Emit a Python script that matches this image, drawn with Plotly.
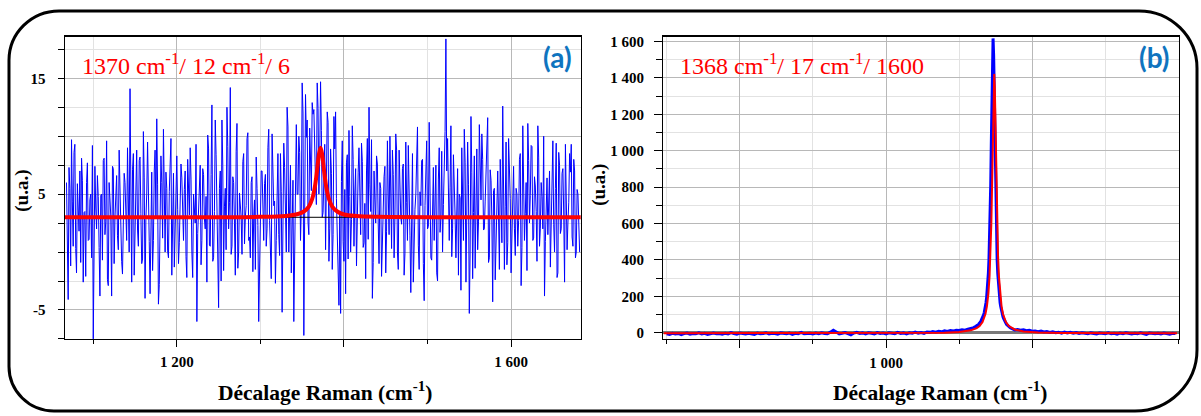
import plotly.graph_objects as go

W, H = 1201, 416

# ---------------- Panel (a) data ----------------
# readings at even wavenumbers 1068, 1070, ... 1682 (cm-1)
a_even_start = 1068
a_blue_even = [
    6.0, -4.1, 5.5, 9.7, 0.5, 9.3, -1.8, 4.0, 7.0, 8.1,
    -2.6, 3.5, 6.0, 1.0, 4.5, -0.5, -7.5, 7.4, 2.0, 4.8,
    -3.8, 5.0, 7.9, 1.5, 9.6, -2.9, 4.0, -3.8, 7.2, 3.0,
    6.6, 0.2, 5.0, -0.8, 3.2, 6.0, 1.0, 4.0, 14.1, -2.6,
    8.5, 2.0, 8.8, 0.5, 8.2, -1.0, 10.4, -4.0, 5.0, 2.0,
    -3.6, 6.9, 1.0, 8.8, 11.5, -4.5, 3.5, 6.0, 10.6, 0.0,
    5.5, -0.5, 7.8, -2.0, 6.8, 2.0, 8.3, -1.0, 4.5, 6.4,
    1.0, 7.0, -2.2, 3.8, 9.0, 0.0, 5.0, 2.5, -6.0, 4.0,
    7.5, 1.0, 6.7, 2.0, -2.6, 8.9, 0.5, 12.7, -0.5, 11.4,
    3.0, -4.8, 7.0, 11.4, -1.6, 5.5, 12.5, 2.0, 14.2, 0.5,
    6.0, -2.0, 11.1, 0.0, 4.0, -0.2, 8.5, 3.0, 9.8, 1.0,
    -0.5, 6.5, 3.0, -1.5, 5.5, -6.0, 4.5, 7.0, 1.0, 6.7,
    2.0, 10.6, -1.0, 10.2, 4.0, -2.7, 6.0, 1.5, 8.5, -5.2,
    9.4, 2.5, 12.5, 0.0, 7.5, 2.0, -6.0, 9.0, 5.0, 10.0,
    1.0, 14.6, -7.2, 13.6, 11.4, 1.5, 8.0, 12.9, 12.3, 6.0,
    14.6, 5.0, 14.7, 3.0, 8.2, 0.2, 12.1, -0.8, 8.9, -1.5,
    11.7, 12.1, 0.6, -4.6, -5.3, 9.6, -0.8, -3.6, 8.4, 10.5,
    0.0, 10.9, 0.5, 7.2, 4.0, 9.0, 1.5, 7.8, 0.8, -2.3,
    9.8, 12.5, 3.5, -4.0, 7.0, 2.5, 7.6, -1.0, 5.5, 1.0,
    6.5, -1.8, 9.6, 1.5, 4.5, 8.8, -0.5, 10.2, 0.0, 8.8,
    3.0, 7.2, -2.0, 9.5, 1.0, 6.0, -3.5, 8.5, 2.5, 5.0,
    10.8, -1.5, 4.0, 8.0, -4.2, 6.5, 2.0, 11.2, -0.5, 5.5,
    1.0, 7.5, -2.5, 9.0, 3.0, 0.0, 7.6, 18.4, 9.8, 1.0,
    10.9, 2.0, 6.5, -0.5, 7.2, 5.0, -3.3, 6.0, 10.6, -2.6,
    9.5, -5.3, 11.7, -2.3, 8.3, 6.0, 0.2, 11.0, 4.5, 8.0,
    2.0, 7.5, 11.6, -0.5, 6.2, -4.3, 5.5, 1.0, 7.0, -1.5,
    4.0, 12.6, -1.5, 9.5, 0.8, 6.5, -1.8, 7.0, 2.0, 5.5,
    0.5, 8.0, -2.9, 10.9, 1.0, 6.0, 11.1, 2.5, 9.2, 1.0,
    6.5, 3.5, 10.9, 0.5, 6.0, 2.0, -3.8, 5.5, 1.5, 7.0,
    3.5, 9.6, 0.0, 9.4, -1.8, 7.5, 2.0, 7.2, -2.6, 5.0,
    2.5, 8.5, 9.3, 0.5, 7.0, 0.0, 5.0, 0.0,
]
# readings at odd wavenumbers 1069, 1071, ... 1681 (cm-1)
a_odd_start = 1069
a_blue_odd = [
    2.1, 7.3, -1.2, 4.4, 8.6, 0.3, 5.9, 1.8, -0.9, 6.2,
    3.4, -2.1, 7.7, 1.1, 5.0, 9.2, -1.5, 3.8, 6.6, 0.4,
    4.9, -0.7, 8.1, 2.6, -2.4, 6.0, 3.1, 7.4, -1.0, 5.3,
    1.4, 8.8, 3.6, -1.9, 6.8, 2.2, 9.0, 0.0, 4.6, 7.1,
    -2.0, 5.6, 1.9, 7.9, 3.3, -0.6, 6.4, 2.8, 9.5, 0.9,
    4.2, -1.6, 7.0, 3.0, 5.8, -2.8, 8.3, 1.2, 4.7, 6.9,
    0.1, 5.2, 9.8, 2.4, -1.3, 6.1, 3.7, 0.8, 7.6, 2.0,
    5.4, -0.4, 8.0, 3.2, 6.3, -2.2, 4.1, 9.3, 1.6, 5.7,
    -1.1, 7.2, 2.9, 4.8, 10.1, 0.6, 6.7, -0.8, 3.5, 8.4,
    1.7, 5.5, -2.5, 7.5, 3.9, 0.2, 9.1, 4.3, -0.2, 6.5,
    2.5, 8.7, -1.4, 5.1, 3.0, 7.8, 0.7, 4.0, 10.3, 1.3,
    6.0, -1.7, 4.5, 8.2, 2.3, -0.5, 7.0, 3.6, 5.9, 0.5,
    9.0, 2.7, -2.3, 6.6, 4.4, 1.0, 8.5, -0.3, 5.2, 3.1,
    7.3, 0.0, 10.8, 4.9, -1.8, 6.2, 2.1, 11.0, 5.0, 8.6,
    3.8, 12.0, 6.4, 9.9, 2.6, 10.7, 5.3, 11.9, 7.8, 4.1,
    12.4, 8.1, 10.5, 3.4, 9.3, 5.6, 11.2, 2.0, 6.8, 1.5,
    8.9, 4.6, -1.9, 3.2, 6.1, 0.9, 5.4, 7.7, -0.6, 4.8,
    2.8, 8.0, 5.1, -1.2, 6.9, 3.3, 9.4, 0.4, 4.2, 7.0,
    1.1, 5.8, 9.7, -0.9, 4.5, 8.3, 2.5, 6.0, -2.1, 3.9,
    7.4, 1.8, 5.0, 10.0, 0.3, 6.7, 3.0, 8.8, -1.5, 5.5,
    2.4, 7.6, -0.1, 4.3, 9.2, 1.4, 6.1, -2.6, 3.7, 8.1,
    0.6, 5.2, 7.9, -1.0, 4.0, 9.6, 2.2, 5.9, -0.7, 7.3,
    3.5, -1.8, 6.3, 1.7, 8.7, 4.1, 10.4, 7.0, 2.9, 5.6,
    -0.4, 8.4, 3.1, 6.5, -2.0, 4.7, 9.0, 1.0, 7.7, 2.3,
    5.8, 0.0, 6.9, 3.4, -1.4, 8.9, 2.6, 5.1, 10.2, 1.9,
    4.4, 9.5, -0.9, 7.1, 2.8, 5.3, -2.4, 6.6, 3.0, 8.0,
    0.8, 6.2, 3.9, -1.1, 9.8, 4.6, 1.5, 7.4, -0.3, 5.0,
    2.7, 8.5, 0.4, 6.0, 3.3, -1.6, 7.9, 4.9, 9.1, 1.2,
    5.7, -0.8, 8.2, 2.0, 4.8, 10.0, 0.9, 6.4, 3.6, -1.3,
    7.5, 2.4, 5.5, -2.2, 8.6, 1.6, 6.8, 3.2, 9.3, 0.2,
    4.3, 6.9, 1.3, 8.0, -0.5, 5.4, 2.9,
]
a_pairs = sorted(
    [(a_even_start + 2 * i, v) for i, v in enumerate(a_blue_even)]
    + [(a_odd_start + 2 * i, v) for i, v in enumerate(a_blue_odd)]
)
a_x = [p[0] for p in a_pairs]
a_y = [p[1] for p in a_pairs]

a_fit_x = [1066, 1300, 1330, 1345, 1352, 1358, 1362, 1365, 1368, 1370, 1372,
           1374, 1376, 1379, 1382, 1386, 1392, 1400, 1415, 1440, 1684]
a_fit_y = [3.0, 3.04, 3.12, 3.28, 3.50, 3.93, 4.59, 5.54, 7.15, 8.40, 9.0,
           8.40, 7.15, 5.54, 4.59, 3.93, 3.50, 3.24, 3.11, 3.05, 3.0]
a_base_x = [1300, 1440]
a_base_y = [3.0, 3.0]

# ---------------- Panel (b) data ----------------
b_left_x = list(range(250, 1300, 10))
b_left_y = [
    -6, -9, -3, -7, -4, -10, -5, -2, -8, -4,
    -6, -1, -7, -3, -9, -5, -2, -6, -4, -8,
    -3, -6, 1, -5, -8, -2, -4, -7, -3, -5,
    -9, -2, -6, -4, 0, -7, -3, -5, -8, -1,
    -4, -6, -2, -9, -3, -5, 2, -6, -4, -3,
    -7, -2, -5, 0, -4, -6, 3, 14, 4, -6,
    -3, 1, -5, -12, -2, 2, -4, -1, -6, 0,
    -3, -7, 1, -4, -2, -6, 0, -3, -5, 2,
    -4, -1, -6, 0, -3, 3, -2, 1, -4, 4,
    2, 6, 3, 8, 5, 10, 7, 12, 9, 14,
    12, 16, 14, 19, 22,
]
b_peak_x = list(range(1300, 1442, 2))
b_peak_y = [
    28, 30, 29, 33, 32, 38, 37, 43, 44, 50, 52, 57, 62, 68, 74, 81, 90,
    100, 112, 127, 145, 166, 193, 227, 270, 327, 401, 500, 633, 810, 1036,
    1294, 1522, 1617, 1522, 1294, 1036, 810, 633, 500, 401, 327, 270, 227,
    193, 166, 145, 127, 112, 100, 88, 79, 70, 63, 57, 52, 46, 43, 39, 36,
    33, 31, 28, 26, 24, 22, 21, 19, 17, 16, 15,
]
b_right_x = list(range(1450, 2000, 10))
b_right_y = [
    18, 14, 16, 11, 13, 8, 10, 6, 9, 4,
    6, 2, 5, 0, 3, -2, 4, -1, 2, -3,
    1, -4, 0, -2, -6, -1, -3, -7, -2, -4,
    -5, -1, -6, -3, -8, -2, -5, 0, -4, -7,
    -3, -6, -1, -5, -9, -2, -4, -6, -3, -7,
    -2, -5, -8, -3, -5,
]
b_x = b_left_x + b_peak_x + b_right_x
b_y = b_left_y + b_peak_y + b_right_y

b_fit_x = [240, 600, 900, 1100, 1200, 1250, 1290, 1310, 1320, 1330, 1340, 1345,
           1350, 1354, 1357, 1360, 1362, 1364, 1366, 1368, 1370, 1372, 1374,
           1376, 1378, 1380, 1383, 1386, 1390, 1395, 1400, 1410, 1420, 1440,
           1470, 1520, 1600, 1800, 1995]
b_fit_y = [-3, -3, -2.5, -1.6, 0.5, 4, 13, 25, 37, 59, 103, 145,
           215, 311, 424, 595, 753, 948, 1164, 1347, 1422, 1347, 1164,
           948, 753, 595, 424, 311, 215, 145, 103, 59, 37, 18,
           7, 1.6, -1, -2.4, -2.7]

# tick labels
a_xtick_vals = [1200, 1400, 1600]
a_xtick_text = ["1 200", "", "1 600"]
a_ytick_vals = [-5, 0, 5, 10, 15]
a_ytick_text = ["-5", "", "5", "", "15"]
b_xtick_vals = [500, 1000, 1500]
b_xtick_text = ["", "1 000", ""]
b_ytick_vals = [0, 200, 400, 600, 800, 1000, 1200, 1400, 1600]
b_ytick_text = ["0", "200", "400", "600", "800", "1 000", "1 200", "1 400", "1 600"]

a_label = "1370 cm<sup>-1</sup>/ 12 cm<sup>-1</sup>/ 6"
b_label = "1368 cm<sup>-1</sup>/ 17 cm<sup>-1</sup>/ 1600"
x_title = "Décalage Raman (cm<sup>-1</sup>)"
y_title = "(u.a.)"

# ---------------- figure ----------------
def fx(p):
    return p / W

def fy(p):
    return 1 - p / H

SERIF = "Liberation Serif"
SANS = "Lato"
BLUE = "#0000ff"
RED = "#ff0000"
PANEL_TAG = "#0f74bf"

fig = go.Figure()
fig.add_trace(go.Scatter(x=a_x, y=a_y, mode="lines", line=dict(color=BLUE, width=1),
                         xaxis="x", yaxis="y", showlegend=False))
fig.add_trace(go.Scatter(x=a_base_x, y=a_base_y, mode="lines", line=dict(color="black", width=1),
                         xaxis="x", yaxis="y", showlegend=False))
fig.add_trace(go.Scatter(x=a_fit_x, y=a_fit_y, mode="lines", line=dict(color=RED, width=4, shape="spline"),
                         xaxis="x", yaxis="y", showlegend=False))
fig.add_trace(go.Scatter(x=b_x, y=b_y, mode="lines", line=dict(color=BLUE, width=3),
                         xaxis="x2", yaxis="y2", showlegend=False))
fig.add_trace(go.Scatter(x=b_fit_x, y=b_fit_y, mode="lines", line=dict(color=RED, width=2),
                         xaxis="x2", yaxis="y2", showlegend=False))

tickfont = dict(family=SERIF, size=15, color="black", weight="bold")
common = dict(showline=True, linecolor="black", linewidth=1.5, mirror=True,
              ticks="outside", tickcolor="black", tickwidth=1,
              showgrid=True, gridcolor="#b8b8b8", gridwidth=1,
              tickfont=tickfont, fixedrange=True)

ydom = [fy(340), fy(34)]

fig.update_layout(
    width=W, height=H,
    margin=dict(l=0, r=0, t=0, b=0),
    paper_bgcolor="white", plot_bgcolor="white",
    font=dict(family=SERIF),
    xaxis=dict(domain=[fx(65), fx(580.7)], range=[1066.2, 1683.3], anchor="y",
               tickmode="array", tickvals=a_xtick_vals, ticktext=a_xtick_text, ticklen=7,
               ticklabelstandoff=2, zeroline=False,
               minor=dict(tickmode="linear", tick0=1000, dtick=100, ticks="outside", ticklen=4,
                          tickcolor="black", showgrid=True, gridcolor="#e2e2e2"),
               **common),
    yaxis=dict(domain=ydom, range=[-7.5, 18.6], anchor="x",
               tickmode="array", tickvals=a_ytick_vals, ticktext=a_ytick_text, ticklen=6,
               ticklabelstandoff=9, zeroline=False,
               minor=dict(tickmode="linear", tick0=0, dtick=2.5, ticks="outside", ticklen=6,
                          tickcolor="black", showgrid=True, gridcolor="#e2e2e2"),
               **common),
    xaxis2=dict(domain=[fx(663.4), fx(1178.8)], range=[239, 2001], anchor="y2",
                tickmode="array", tickvals=b_xtick_vals, ticktext=b_xtick_text, ticklen=8,
                ticklabelstandoff=2, zeroline=False,
                minor=dict(tickmode="linear", tick0=0, dtick=250, ticks="outside", ticklen=4,
                           tickcolor="black", showgrid=True, gridcolor="#e2e2e2"),
                **common),
    yaxis2=dict(domain=ydom, range=[-34, 1627], anchor="x2",
                tickmode="array", tickvals=b_ytick_vals, ticktext=b_ytick_text, ticklen=8,
                ticklabelstandoff=7,
                zeroline=True, zerolinecolor="#7a7a7a", zerolinewidth=2.5,
                minor=dict(tickmode="linear", tick0=0, dtick=100, ticks="outside", ticklen=6,
                           tickcolor="black", showgrid=True, gridcolor="#e2e2e2"),
                **common),
)

annots = [
    dict(text=a_label, x=fx(80), y=fy(62), xanchor="left", yanchor="middle",
         font=dict(family=SERIF, size=24, color=RED)),
    dict(text=b_label, x=fx(678), y=fy(62), xanchor="left", yanchor="middle",
         font=dict(family=SERIF, size=24, color=RED)),
    dict(text="(a)", x=fx(557), y=fy(55), xanchor="center", yanchor="middle",
         font=dict(family=SANS, size=28, color=PANEL_TAG, weight="bold")),
    dict(text="(b)", x=fx(1154), y=fy(55), xanchor="center", yanchor="middle",
         font=dict(family=SANS, size=28, color=PANEL_TAG, weight="bold")),
    dict(text=x_title, x=fx(325), y=fy(393), xanchor="center", yanchor="middle",
         font=dict(family=SERIF, size=21.5, color="black", weight="bold")),
    dict(text=x_title, x=fx(940), y=fy(393), xanchor="center", yanchor="middle",
         font=dict(family=SERIF, size=21.5, color="black", weight="bold")),
    dict(text=y_title, x=fx(22), y=fy(190), xanchor="center", yanchor="middle", textangle=-90,
         font=dict(family=SERIF, size=19, color="black", weight="bold")),
    dict(text=y_title, x=fx(599), y=fy(184), xanchor="center", yanchor="middle", textangle=-90,
         font=dict(family=SERIF, size=19, color="black", weight="bold")),
]
for a in annots:
    a.update(xref="paper", yref="paper", showarrow=False)
fig.update_layout(annotations=annots)

# rounded outer frame (pixel geometry -> paper coords)
x0, y0, x1, y1 = 9, 8, 1197, 413
rtl, rtr, rbr, rbl = 50, 58, 62, 45
k = 0.5523

def P(x, y):
    return f"{fx(x):.5f},{fy(y):.5f}"

path = (
    f"M {P(x0 + rtl, y0)} L {P(x1 - rtr, y0)} "
    f"C {P(x1 - rtr + k * rtr, y0)} {P(x1, y0 + rtr - k * rtr)} {P(x1, y0 + rtr)} "
    f"L {P(x1, y1 - rbr)} "
    f"C {P(x1, y1 - rbr + k * rbr)} {P(x1 - rbr + k * rbr, y1)} {P(x1 - rbr, y1)} "
    f"L {P(x0 + rbl, y1)} "
    f"C {P(x0 + rbl - k * rbl, y1)} {P(x0, y1 - rbl + k * rbl)} {P(x0, y1 - rbl)} "
    f"L {P(x0, y0 + rtl)} "
    f"C {P(x0, y0 + rtl - k * rtl)} {P(x0 + rtl - k * rtl, y0)} {P(x0 + rtl, y0)} Z"
)
fig.add_shape(type="path", path=path, xref="paper", yref="paper",
              line=dict(color="black", width=3), fillcolor="rgba(0,0,0,0)", layer="above")

fig.write_html("out.html", config={"displayModeBar": False, "staticPlot": True})

# remove the browser's default page margin so the figure sits at (0, 0)
with open("out.html", "r", encoding="utf-8") as f:
    html = f.read()
html = html.replace("<head>", "<head><style>html,body{margin:0;padding:0;overflow:hidden;}</style>", 1)
with open("out.html", "w", encoding="utf-8") as f:
    f.write(html)
